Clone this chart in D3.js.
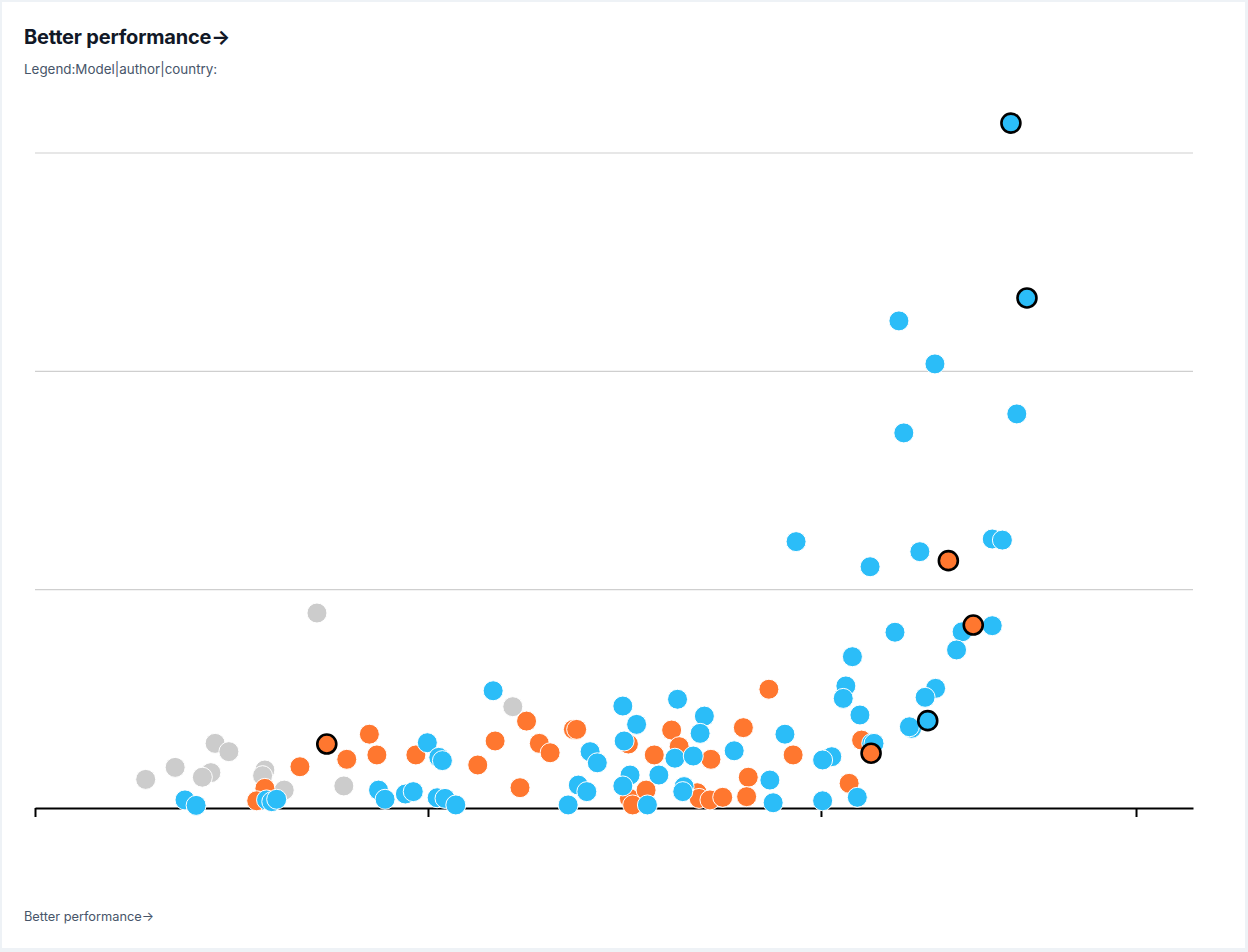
<!DOCTYPE html>
<html>
<head>
<meta charset="utf-8">
<script src="https://cdn.jsdelivr.net/npm/d3@7"></script>
<style>
  html, body { margin: 0; padding: 0; background: #eef2f6; }
  #card {
    position: absolute; left: 2px; top: 2px; width: 1243px; height: 946px;
    background: #fff; font-family: Inter, "Noto Sans", sans-serif;
  }
  #title { position: absolute; left: 22px; top: 23px; font-size: 20px; font-weight: 700; color: #111827; letter-spacing: -0.2px; }
  #subtitle { position: absolute; left: 22px; top: 59px; font-size: 13.4px; color: #475569; }
  #footer { position: absolute; left: 22px; top: 907px; font-size: 12.8px; color: #475569; }
  svg { position: absolute; left: -2px; top: -2px; }
</style>
</head>
<body>
<div id="card">
  <div id="title">Better performance→</div>
  <div id="subtitle">Legend:Model|author|country:</div>
  <div id="footer">Better performance→</div>
</div>
<script>
// x: months since start, y: score
const xTicks = [0, 12, 24, 33.62];
const yGrid = [10, 20, 30];

const grayPoints = [
  [3.38, 1.31], [4.28, 1.86], [5.50, 2.96], [5.92, 2.58], [5.37, 1.62], [5.11, 1.41],
  [7.02, 1.74], [6.95, 1.48], [7.61, 0.82], [9.43, 1.01], [8.61, 8.93], [14.59, 4.64]
];

const orangePoints = [
  [7.02, 0.90], [6.77, 0.33], [8.09, 1.89], [9.52, 2.23], [10.21, 3.38], [10.44, 2.43],
  [11.63, 2.43], [13.52, 1.97], [14.05, 3.07], [15.01, 3.98], [15.40, 2.96], [15.73, 2.53],
  [14.81, 0.93], [16.44, 3.60], [16.54, 3.60], [18.12, 2.93], [18.15, 0.44], [18.25, 0.14],
  [18.66, 0.82], [18.91, 2.43], [19.44, 3.57], [19.67, 2.81], [20.64, 2.23], [20.22, 0.70],
  [20.28, 0.44], [20.61, 0.37], [21.00, 0.49], [21.63, 3.68], [22.41, 5.44], [21.78, 1.41],
  [21.73, 0.52], [23.15, 2.43], [25.24, 3.11], [24.86, 1.13]
];

const bluePoints = [
  [4.58, 0.37], [4.92, 0.12], [7.07, 0.37], [7.23, 0.29], [7.38, 0.40], [10.49, 0.82],
  [10.69, 0.40], [11.31, 0.64], [11.55, 0.75], [11.98, 2.99], [12.33, 2.32], [12.44, 2.17],
  [12.28, 0.47], [12.52, 0.44], [12.85, 0.14], [13.99, 5.37], [16.28, 0.14], [16.95, 2.58],
  [17.17, 2.07], [16.59, 1.05], [16.85, 0.75], [17.95, 4.67], [18.37, 3.83], [17.99, 3.07],
  [18.17, 1.51], [17.95, 1.01], [18.70, 0.14], [19.05, 1.51], [19.62, 4.98], [19.54, 2.28],
  [20.10, 2.38], [20.44, 4.21], [20.31, 3.42], [19.82, 0.98], [19.78, 0.75], [21.35, 2.62],
  [22.90, 3.38], [22.44, 1.28], [22.54, 0.24], [23.24, 12.20], [25.50, 11.05], [27.02, 11.74],
  [29.23, 12.32], [29.54, 12.27], [26.26, 8.05], [28.31, 8.07], [29.23, 8.35], [28.14, 7.24],
  [24.96, 6.93], [24.76, 5.59], [24.68, 5.02], [25.19, 4.26], [27.50, 5.48], [27.18, 5.07],
  [26.77, 3.65], [26.70, 3.72], [24.33, 2.35], [24.05, 2.20], [25.55, 2.96], [25.62, 2.96],
  [24.05, 0.33], [25.11, 0.49], [26.38, 22.31], [27.48, 20.34], [29.98, 18.05], [26.53, 17.18]
];

const blueHighlighted = [[29.80, 31.37], [30.29, 23.36], [27.26, 4.00]];
const orangeHighlighted = [[8.91, 2.93], [27.89, 11.33], [28.65, 8.38], [25.53, 2.51]];

const colors = { gray: '#cccccc', orange: '#ff772f', blue: '#2bbdf8' };

const width = 1248, height = 952;

const x = d3.scaleLinear().domain([0, 35.36]).range([35, 1193]);
const y = d3.scaleLinear().domain([0, 30]).range([808, 153]);

const svg = d3.select('#card')
  .append('svg')
  .attr('width', width)
  .attr('height', height);

// grid lines
svg.append('g')
  .selectAll('line')
  .data(yGrid)
  .enter()
  .append('line')
  .attr('x1', x.range()[0])
  .attr('x2', x.range()[1])
  .attr('y1', d => y(d))
  .attr('y2', d => y(d))
  .style('stroke', '#cfcfcf')
  .style('stroke-width', 1.2);

// x axis, ticks only
const xAxis = svg.append('g')
  .attr('transform', `translate(0,${y(0)})`)
  .call(d3.axisBottom(x).tickValues(xTicks).tickSize(9).tickFormat('').tickSizeOuter(0));
xAxis.select('.domain').style('stroke', '#000').style('stroke-width', 2);
xAxis.selectAll('.tick line').style('stroke', '#000').style('stroke-width', 2);

function drawDots(points, color, highlight) {
  svg.append('g')
    .selectAll('circle')
    .data(points)
    .enter()
    .append('circle')
    .attr('cx', d => x(d[0]))
    .attr('cy', d => y(d[1]))
    .attr('r', highlight ? 9.5 : 10)
    .style('fill', color)
    .style('stroke', highlight ? '#000' : '#fff')
    .style('stroke-width', highlight ? 2.6 : 1);
}

drawDots(grayPoints, colors.gray, false);
drawDots(orangePoints, colors.orange, false);
drawDots(bluePoints, colors.blue, false);
drawDots(orangeHighlighted, colors.orange, true);
drawDots(blueHighlighted, colors.blue, true);
</script>
</body>
</html>
